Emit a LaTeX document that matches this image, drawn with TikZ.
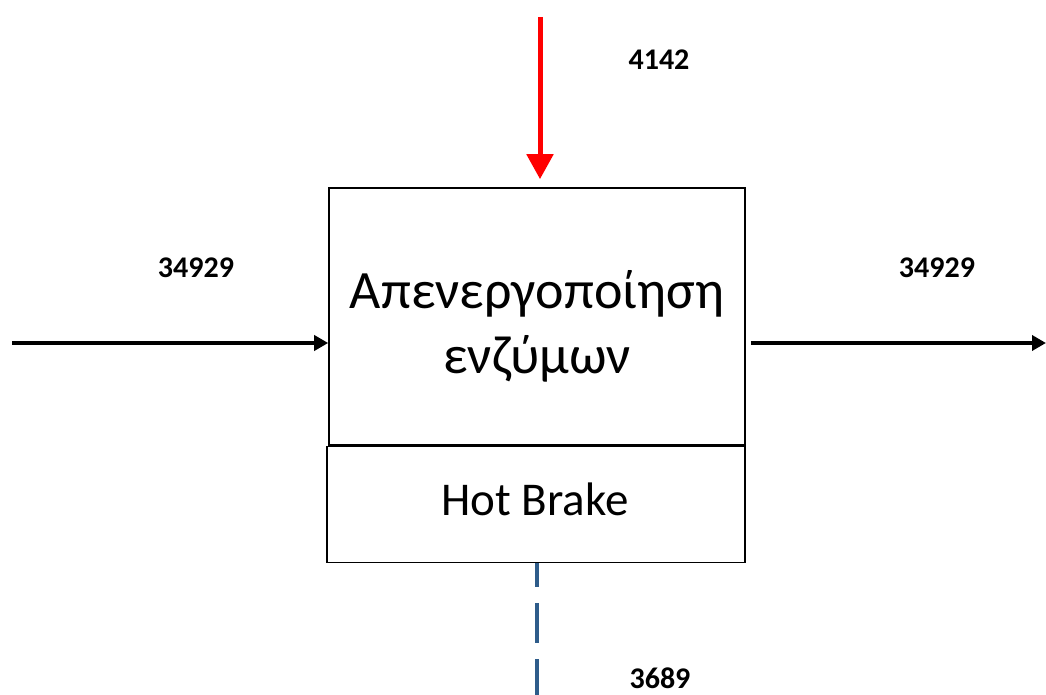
\documentclass[tikz,border=0pt]{standalone}
\usepackage{fontspec}
\setmainfont{Carlito}
\usepackage{xcolor}
\usetikzlibrary{arrows.meta,positioning}

\definecolor{lossblue}{RGB}{46,92,138}
\definecolor{heatred}{RGB}{255,0,0}

\begin{document}
\begin{tikzpicture}[
  x=0.5pt, y=-0.5pt,
  box/.style={draw, line width=0.8pt, minimum width=208pt, align=center, inner sep=0pt},
  flow/.style={-{Triangle[length=7pt,width=7.5pt]}, line width=2pt},
  heatarr/.style={-{Triangle[length=12.5pt,width=13pt]}, draw=heatred, line width=2.5pt},
  lossline/.style={draw=lossblue, line width=2pt, dash pattern=on 20pt off 8pt, dash phase=8pt},
  val/.style={font=\fontsize{15}{18}\selectfont\bfseries}
]
\useasboundingbox (0,0) rectangle (1046,695);

% ---------- Process block ----------
\node[box, minimum height=128.5pt] (proc) at (537,316.5) {};
\node[align=center, font=\fontsize{27}{32.5}\selectfont] (proctxt) at ([yshift=-5pt]proc.center) {Απενεργοποίηση\\ενζύμων};
\node[box, minimum width=209pt, minimum height=58pt, below=0pt of proc, xshift=-0.5pt] (brake) {};
\node[font=\fontsize{23.5}{27}\selectfont] (braketxt) at ([xshift=-0.5pt, yshift=2.5pt]brake.center) {Hot Brake};

% ---------- Free ends ----------
\coordinate (feedin) at (12,343);
\coordinate (feedout) at (1046,343);
\coordinate (heat) at (540,17);
\coordinate (loss) at (537,695);

% ---------- Arrows ----------
\draw[flow] (feedin) -- (feedin -| proc.west);
\draw[flow] ([xshift=2.5pt]feedin -| proc.east) -- (feedout);
\draw[heatarr, shorten >=4pt] (heat) -- (heat |- proc.north);
\draw[lossline] (brake.south -| loss) -- (loss);

% ---------- Values ----------
\node[val] (vin) at (196,268) {34929};
\node[val] (vout) at (937,268) {34929};
\node[val] (vheat) at (659,60) {4142};
\node[val] (vloss) at (660,678) {3689};

\end{tikzpicture}
\end{document}
